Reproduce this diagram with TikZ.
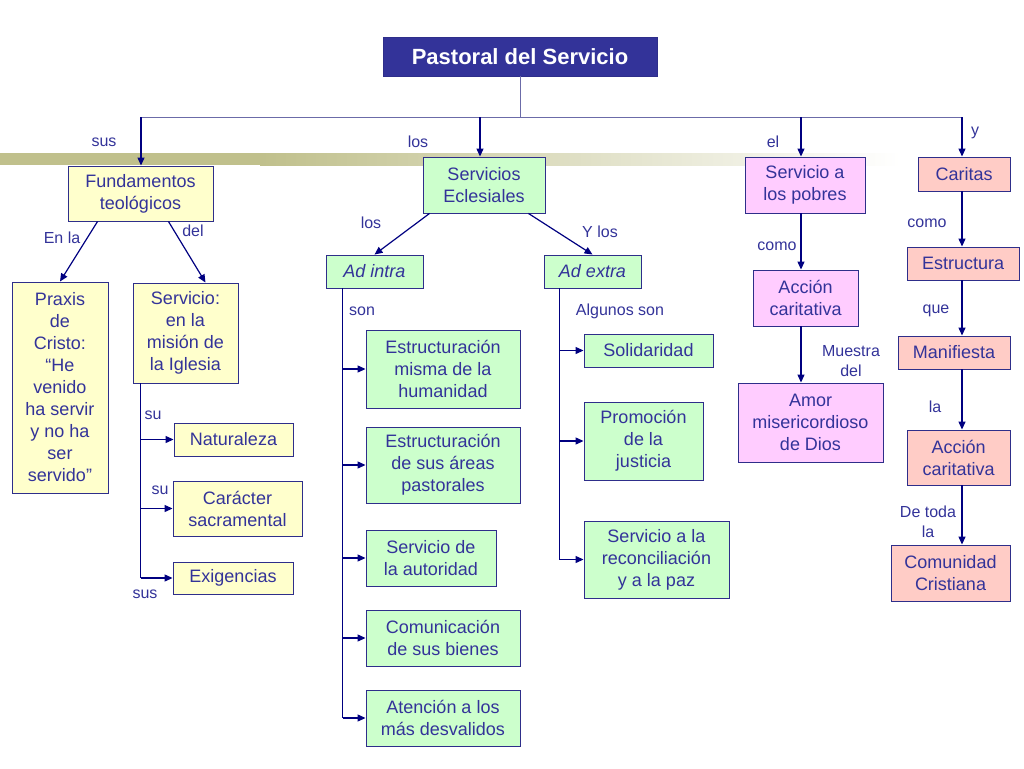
\documentclass[tikz,border=0pt]{standalone}
\usepackage{fontspec}
\setmainfont{Liberation Sans}
\usetikzlibrary{arrows.meta}

\definecolor{ink}{HTML}{333399}
\definecolor{edge}{HTML}{000080}
\definecolor{frame}{HTML}{2E2E8A}
\definecolor{busline}{HTML}{6B6BA8}
\definecolor{band}{HTML}{C0C08C}
\definecolor{amarillo}{HTML}{FFFFCC}
\definecolor{verde}{HTML}{CCFFCC}
\definecolor{rosa}{HTML}{FFCCFF}
\definecolor{salmon}{HTML}{FFCCC6}

\tikzset{
  box/.style={draw=frame, line width=0.9pt, align=center, inner sep=2pt, text=ink,
    font=\fontsize{18}{22}\selectfont},
  wh/.style 2 args={minimum width=#1, minimum height=#2},
  ybox/.style={box, fill=amarillo},
  gbox/.style={box, fill=verde},
  pbox/.style={box, fill=rosa},
  sbox/.style={box, fill=salmon},
  lbl/.style={text=ink, align=center, inner sep=0pt, font=\fontsize{16}{20}\selectfont},
  arr/.style={draw=edge, line width=1.2pt, -{Triangle[length=8pt,width=7pt]}},
  trunk/.style={draw=edge, line width=1.2pt}
}

\begin{document}
\begin{tikzpicture}[x=1pt, y=-1pt]

    \useasboundingbox (0,0) rectangle (1024,768);

    % band
    \fill[band] (0,153) rectangle (260,165);
    \shade[left color=band, right color=white] (260,153) rectangle (900,165);

    \node[box, wh={274}{39}, fill=ink, text=white, font=\fontsize{22}{26}\selectfont\bfseries] (title) at (520,56.5) {Pastoral del Servicio};

    \node[ybox, wh={145}{55}] (fund) at (140.5,193.5) {Fundamentos\\teológicos};
    \node[gbox, wh={122}{56}] (serv) at (484,185) {Servicios\\Eclesiales};
    \node[pbox, wh={120}{56}] (pobr) at (805,185) {Servicio a\\los pobres};
    \node[sbox, wh={92}{34}] (cari) at (964,174) {Caritas};

    \node[ybox, wh={96}{211}] (praxis) at (60,387.5) {Praxis\\de\\Cristo:\\“He\\venido\\ha servir\\y no ha\\ser\\servido”};
    \node[ybox, wh={105}{100}] (igl) at (185.5,333) {Servicio:\\en la\\misión de\\la Iglesia};
    \node[ybox, wh={119}{33}] (nat) at (233.5,439.5) {Naturaleza};
    \node[ybox, wh={129}{55}] (sac) at (237.5,508.5) {Carácter\\sacramental};
    \node[ybox, wh={120}{32}] (exi) at (233,578) {Exigencias};

    \node[gbox, wh={97}{33}] (intra) at (374.5,271.5) {\itshape Ad intra};
    \node[gbox, wh={97}{33}] (extra) at (592.5,271.5) {\itshape Ad extra};
    \node[gbox, wh={154}{78}] (hum) at (443,369) {Estructuración\\misma de la\\humanidad};
    \node[gbox, wh={154}{76}] (areas) at (443,465) {Estructuración\\de sus áreas\\pastorales};
    \node[gbox, wh={130}{56}] (aut) at (431,558) {Servicio de\\la autoridad};
    \node[gbox, wh={154}{56}] (bien) at (443,638) {Comunicación\\de sus bienes};
    \node[gbox, wh={154}{56}] (desv) at (443,718) {Atención a los\\más desvalidos};
    \node[gbox, wh={129}{33}] (soli) at (648.5,350.5) {Solidaridad};
    \node[gbox, wh={119}{78}] (just) at (643.5,441) {Promoción\\de la\\justicia};
    \node[gbox, wh={145}{77}] (paz) at (656.5,559.5) {Servicio a la\\reconciliación\\y a la paz};

    \node[pbox, wh={105}{56}] (acc1) at (805.5,298) {Acción\\caritativa};
    \node[pbox, wh={145}{79}] (amor) at (810.5,422.5) {Amor\\misericordioso\\de Dios};

    \node[sbox, wh={112}{33}] (est) at (963,263.5) {Estructura};
    \node[sbox, wh={112}{33}] (man) at (954,352.5) {Manifiesta};
    \node[sbox, wh={103}{55}] (acc2) at (958.5,457.5) {Acción\\caritativa};
    \node[sbox, wh={119}{56}] (com) at (950.5,573) {Comunidad\\Cristiana};

    % labels
    \node[lbl] (lsus) at (104,142) {sus};
    \node[lbl] (llos) at (418,142) {los};
    \node[lbl] (lel) at (773,142) {el};
    \node[lbl] (ly) at (975,133) {y};
    \node[lbl] (lenla) at (62,238) {En la};
    \node[lbl] (ldel) at (193,231) {del};
    \node[lbl] (lsu1) at (153,415) {su};
    \node[lbl] (lsu2) at (160,490) {su};
    \node[lbl] (lsus2) at (145,594) {sus};
    \node[lbl] (llos2) at (371,223) {los};
    \node[lbl] (lylos) at (600,232) {Y los};
    \node[lbl] (lson) at (362,311) {son};
    \node[lbl] (lalg) at (620,311) {Algunos son};
    \node[lbl] (lcomo1) at (777,246) {como};
    \node[lbl] (lmues) at (851,361) {Muestra\\del};
    \node[lbl] (lcomo2) at (927,223) {como};
    \node[lbl] (lque) at (936,311) {que};
    \node[lbl] (lla) at (935,407) {la};
    \node[lbl] (ltoda) at (928,522) {De toda\\la};

    % bus
    \coordinate (b1) at (141,117);
    \coordinate (b2) at (480,117);
    \coordinate (b3) at (801,117);
    \coordinate (b4) at (962,117);
    \draw[busline, line width=1pt] (title.south) -- (title.south |- b1);
    \draw[busline, line width=1pt] (b1) -- (b4);
    \draw[arr] (b1) -- (b1 |- fund.north);
    \draw[arr] (b2) -- (b2 |- serv.north);
    \draw[arr] (b3) -- (b3 |- pobr.north);
    \draw[arr] (b4) -- (b4 |- cari.north);

    \draw[arr] ([xshift=30pt]fund.south west) -- (praxis.north);
    \draw[arr] ([xshift=-45pt]fund.south east) -- ([xshift=20pt]igl.north);
    \draw[arr] ([xshift=7pt]serv.south west) -- (intra.north);
    \draw[arr] ([xshift=-17pt]serv.south east) -- (extra.north);

    % trunks
    \coordinate (igltr) at ([xshift=8pt]igl.south west);
    \coordinate (intratr) at ([xshift=17pt]intra.south west);
    \coordinate (extratr) at ([xshift=16pt]extra.south west);
    \draw[trunk] (igltr) -- (igltr |- exi);
    \draw[trunk] (intratr) -- (intratr |- desv);
    \draw[trunk] (extratr) -- (extratr |- paz);
    \foreach \n in {nat,sac,exi}
      \draw[arr] (igltr |- \n) -- (\n);
    \foreach \n in {hum,areas,aut,bien,desv}
      \draw[arr] (intratr |- \n) -- (\n);
    \foreach \n in {soli,just,paz}
      \draw[arr] (extratr |- \n) -- (\n);

    \draw[arr] ([xshift=-4pt]pobr.south) -- ([xshift=-4pt]pobr.south |- acc1.north);
    \draw[arr] ([xshift=-4pt]pobr.south |- acc1.south) -- ([xshift=-4pt]pobr.south |- amor.north);
    \foreach \a/\b in {cari/est, est/man, man/acc2, acc2/com}
      \draw[arr] ([xshift=-2pt]\a.south -| cari.south) -- ([xshift=-2pt]\b.north -| cari.south);

  \end{tikzpicture}
\end{document}
